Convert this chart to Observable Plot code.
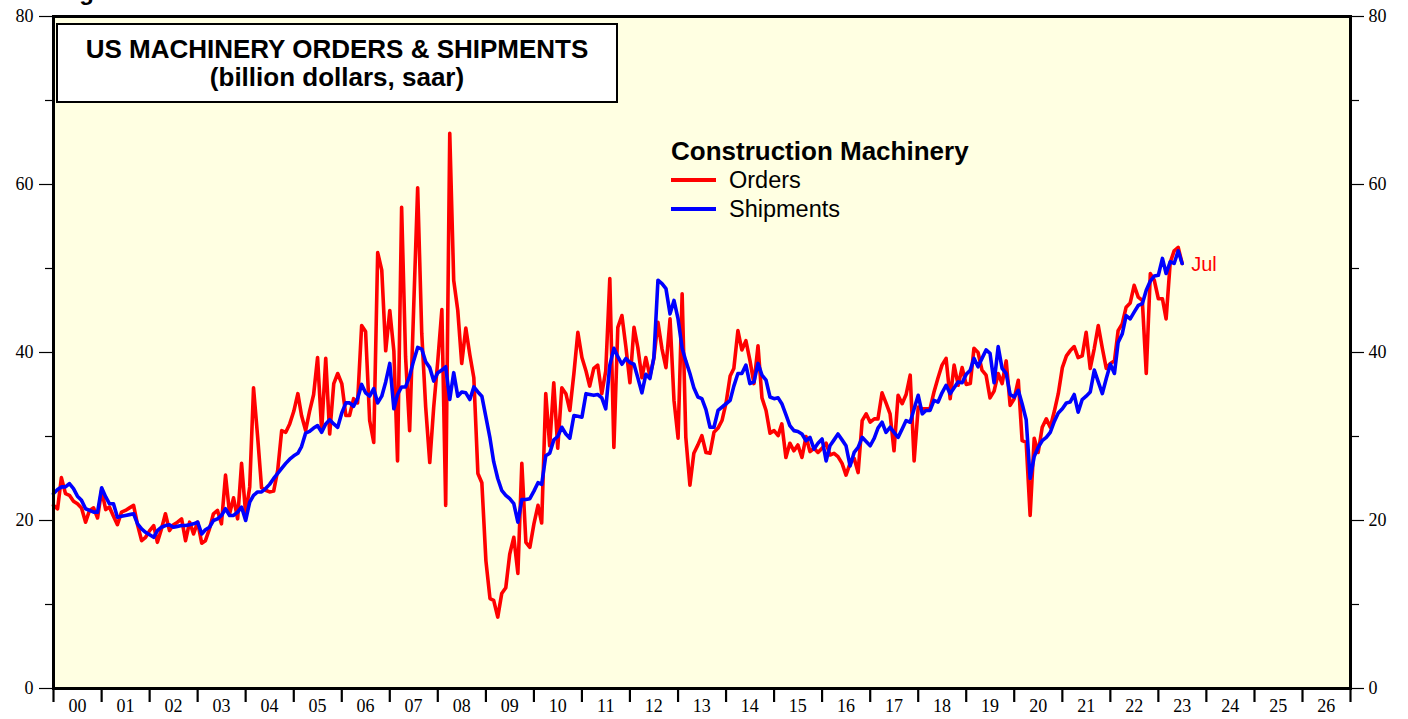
<!DOCTYPE html>
<html>
<head>
<meta charset="utf-8">
<script src="https://cdn.jsdelivr.net/npm/d3@7"></script>
<script src="https://cdn.jsdelivr.net/npm/@observablehq/plot@0.6"></script>
<style>
  html, body { margin: 0; padding: 0; background: #ffffff; overflow: hidden; }
  #wrap { position: relative; width: 1408px; height: 719px; }
  #wrap svg { position: absolute; left: 0; top: 0; }
  .ov { position: absolute; white-space: nowrap; font-family: "Liberation Sans", Arial, sans-serif; color: #000; }
  #titlebox { position: absolute; left: 56px; top: 23px; width: 558px; height: 76px; border: 2px solid #000; background: #fff; }
  .tline { position: absolute; left: 0; width: 100%; text-align: center; font-weight: bold; font-size: 26px; line-height: 30px; font-family: "Liberation Sans", Arial, sans-serif; }
</style>
</head>
<body>
<div id="wrap"></div>
<script>
// ---- data (billion dollars, saar), monthly from Jan 2000 to Jul 2023 ----
const startYear = 2000;
const startMonth = 0;
const orders = [
  21.8, 21.4, 25.1, 23.2, 23.0, 22.3, 22.0, 21.5, 19.8, 21.2, 21.5, 20.3,
  23.6, 21.3, 21.6, 20.5, 19.5, 21.0, 21.2, 21.5, 21.8, 19.5, 17.6, 18.0,
  18.8, 19.4, 17.4, 19.0, 20.8, 18.8, 19.5, 19.8, 20.2, 17.6, 19.8, 18.4,
  19.8, 17.3, 17.6, 19.0, 20.8, 21.2, 19.6, 25.4, 20.8, 22.7, 20.2, 26.8,
  20.8, 24.0, 35.8, 30.0, 23.9, 23.6, 23.4, 23.5, 26.0, 30.7, 30.5, 31.5,
  33.0, 35.1, 32.5, 30.7, 33.0, 35.0, 39.4, 30.7, 39.3, 30.3, 36.3, 37.5,
  36.3, 32.5, 32.5, 34.5, 34.0, 43.2, 42.5, 31.9, 29.3, 51.9, 49.8, 40.2,
  45.0, 40.2, 27.1, 57.3, 39.5, 30.7, 45.0, 59.6, 42.3, 33.5, 26.9, 33.5,
  39.0, 45.1, 21.8, 66.1, 48.6, 45.0, 38.7, 42.9, 39.7, 37.0, 25.6, 24.5,
  15.2, 10.7, 10.5, 8.5, 11.3, 12.0, 16.0, 18.0, 13.7, 26.8, 17.4, 16.8,
  19.6, 21.8, 19.7, 35.1, 28.9, 36.4, 28.6, 35.8, 35.1, 33.1, 37.5, 42.4,
  39.4, 37.8, 36.0, 38.1, 38.5, 35.1, 37.8, 48.8, 28.7, 43.0, 44.4, 40.7,
  36.4, 43.0, 40.6, 37.0, 39.4, 37.2, 39.3, 43.6, 40.4, 38.2, 44.0, 34.3,
  29.8, 47.0, 29.9, 24.2, 28.0, 29.0, 30.1, 28.1, 28.0, 30.5, 31.0, 31.9,
  34.0, 37.2, 38.1, 42.6, 40.3, 41.4, 39.1, 36.3, 40.8, 34.6, 33.1, 30.4,
  30.7, 30.1, 31.5, 27.5, 29.2, 28.3, 29.0, 27.5, 30.0, 28.2, 28.6, 28.1,
  28.6, 29.2, 27.8, 28.0, 27.6, 26.8, 25.4, 26.8, 27.4, 25.7, 31.9, 32.7,
  31.7, 32.1, 32.1, 35.2, 34.0, 32.7, 28.3, 34.9, 33.9, 35.0, 37.3, 27.1,
  33.5, 33.3, 33.3, 33.3, 35.3, 37.0, 38.5, 39.3, 34.5, 38.5, 36.1, 38.2,
  36.2, 36.3, 40.5, 40.0, 37.9, 37.3, 34.6, 35.4, 37.5, 36.3, 39.0, 33.7,
  34.5, 36.7, 29.5, 29.3, 20.6, 29.8, 28.1, 31.1, 32.1, 31.1, 33.0, 35.1,
  38.2, 39.6, 40.2, 40.7, 39.4, 39.6, 42.4, 38.1, 40.5, 43.2, 40.5, 38.1,
  38.7, 39.0, 42.6, 43.4, 45.4, 45.9, 48.0, 46.6, 46.2, 37.5, 49.4, 48.6,
  46.4, 46.4, 44.0, 50.7, 52.1, 52.5, 50.6
];
const shipments = [
  23.2, 23.7, 24.0, 24.0, 24.4, 23.8, 22.9, 22.4, 21.4, 21.2, 21.0, 21.0,
  23.9, 22.8, 22.0, 22.0, 20.4, 20.5, 20.6, 20.7, 20.8, 19.6, 19.0, 18.6,
  18.3, 18.0, 18.8, 19.2, 19.4, 19.5, 19.2, 19.3, 19.4, 19.4, 19.5, 19.6,
  19.8, 18.4, 18.9, 19.2, 20.0, 20.2, 20.6, 21.4, 20.6, 20.6, 21.0, 21.6,
  20.0, 22.2, 23.0, 23.4, 23.4, 23.8, 24.3, 25.0, 25.6, 26.2, 26.8, 27.3,
  27.7, 28.0, 28.8, 30.4, 30.6, 31.0, 31.3, 30.5, 31.5, 32.0, 31.5, 31.1,
  32.8, 34.0, 34.0, 33.6, 34.5, 36.2, 35.2, 34.8, 35.7, 34.0, 34.8, 36.5,
  38.7, 33.3, 35.0, 35.9, 35.9, 37.2, 39.0, 40.6, 40.4, 38.9, 38.2, 36.6,
  37.6, 37.9, 38.3, 34.4, 37.6, 34.8, 35.3, 35.2, 34.4, 35.9, 35.3, 34.8,
  32.3, 29.8, 27.0, 25.0, 23.6, 23.0, 22.6, 22.0, 19.8, 22.5, 22.5, 22.6,
  23.5, 24.5, 24.3, 27.7, 28.0, 29.6, 30.0, 31.1, 30.3, 29.8, 32.5, 32.4,
  32.3, 35.1, 35.0, 34.9, 35.0, 34.6, 33.3, 38.5, 40.5, 39.5, 38.6, 39.3,
  38.8, 38.6, 37.0, 35.2, 37.4, 36.9, 39.4, 48.6, 48.2, 47.6, 44.6, 46.2,
  44.0, 40.5, 39.0, 37.5, 35.8, 34.7, 34.5, 33.2, 31.1, 31.1, 33.1, 33.5,
  33.9, 34.3, 36.0, 37.5, 37.5, 38.5, 36.3, 36.5, 38.7, 37.3, 36.7, 34.7,
  34.5, 34.6, 33.9, 32.6, 31.3, 30.7, 30.6, 30.3, 29.5, 29.9, 28.5, 29.2,
  29.7, 27.1, 28.9, 29.6, 30.3, 29.6, 28.9, 26.5, 28.1, 28.7, 29.9, 29.4,
  28.9, 29.8, 31.0, 31.7, 30.5, 31.1, 30.5, 29.9, 30.9, 31.9, 31.7, 33.3,
  34.9, 32.7, 33.1, 33.1, 34.3, 34.1, 35.2, 36.1, 35.1, 35.8, 36.5, 36.4,
  37.4, 37.9, 39.3, 38.3, 39.3, 40.3, 39.9, 36.4, 40.7, 38.1, 37.5, 35.0,
  34.7, 35.5, 33.9, 32.0, 25.0, 27.6, 28.7, 29.5, 29.9, 30.5, 31.8, 32.8,
  33.3, 34.0, 34.1, 35.0, 32.9, 34.4, 34.8, 35.3, 37.9, 36.5, 35.1, 36.9,
  38.6, 37.5, 41.2, 42.2, 44.4, 44.0, 44.8, 45.6, 45.8, 47.4, 48.5, 49.1,
  49.2, 51.2, 49.4, 50.8, 50.6, 52.1, 50.6
];
const yearLabels = ["00","01","02","03","04","05","06","07","08","09","10","11","12","13",
  "14","15","16","17","18","19","20","21","22","23","24","25","26"];
const yTickMajor = [0, 20, 40, 60, 80];
const yTickMinor = [10, 30, 50, 70];
const seriesNames = ["Orders", "Shipments"];
const seriesColors = ["#ff0000", "#0000ff"];
const lastLabel = "Jul";

// ---- build tables ----
const monthDate = i => new Date(Date.UTC(startYear, startMonth + i, 1));
const rows = [];
orders.forEach((v, i) => rows.push({date: monthDate(i), value: v, series: "Orders"}));
shipments.forEach((v, i) => rows.push({date: monthDate(i), value: v, series: "Shipments"}));
const yearStarts = d3.range(0, yearLabels.length + 1).map(k => new Date(Date.UTC(startYear + k, 0, 1)));
const yearMids = yearLabels.map((s, k) => ({date: new Date(Date.UTC(startYear + k, 6, 1)), label: s}));
const lastOrder = {date: monthDate(orders.length - 1), value: orders[orders.length - 1]};

const serif = "'Liberation Serif', 'Times New Roman', Times, serif";

const chart = Plot.plot({
  width: 1408,
  height: 719,
  marginLeft: 53,
  marginRight: 58,
  marginTop: 16,
  marginBottom: 31,
  style: {background: "transparent", fontFamily: serif, overflow: "visible"},
  x: {type: "utc", domain: [yearStarts[0], yearStarts[yearStarts.length - 1]]},
  y: {domain: [0, 80]},
  color: {domain: seriesNames, range: seriesColors},
  marks: [
    Plot.frame({fill: "#ffffe2", stroke: null}),
    Plot.lineY(rows.filter(d => d.series === "Orders"), {x: "date", y: "value", stroke: seriesColors[0], strokeWidth: 3.6, strokeLinejoin: "round"}),
    Plot.lineY(rows.filter(d => d.series === "Shipments"), {x: "date", y: "value", stroke: seriesColors[1], strokeWidth: 3.6, strokeLinejoin: "round"}),
    Plot.text([lastOrder], {x: "date", y: "value", text: () => lastLabel, dx: 9, dy: 1, textAnchor: "start", fill: seriesColors[0], fontSize: 20, fontFamily: "'Liberation Sans', Arial, sans-serif"}),
    Plot.frame({stroke: "#000", strokeWidth: 3}),
    // y axes
    Plot.axisY({anchor: "left", ticks: yTickMajor, tickSize: 14, tickPadding: 6, fontSize: 18, label: null, strokeWidth: 1.2, fontFamily: serif}),
    Plot.axisY({anchor: "left", ticks: yTickMinor, tickSize: 8, tickFormat: () => "", label: null, strokeWidth: 1.2}),
    Plot.axisY({anchor: "right", ticks: yTickMajor, tickSize: 13, tickPadding: 5, fontSize: 18, label: null, strokeWidth: 1.2, fontFamily: serif}),
    Plot.axisY({anchor: "right", ticks: yTickMinor, tickSize: 8, tickFormat: () => "", label: null, strokeWidth: 1.2}),
    // x axis
    Plot.axisX({ticks: yearStarts, tickSize: 14, tickFormat: () => "", label: null, strokeWidth: 2.2}),
    Plot.text(yearMids, {x: "date", frameAnchor: "bottom", dy: 23, text: "label", fontSize: 18, fontFamily: serif, fill: "#000"})
  ]
});

const wrap = document.getElementById("wrap");
wrap.appendChild(chart);

// ---- annotations ----
function addDiv(html, css, cls) {
  const d = document.createElement("div");
  if (cls) d.className = cls;
  d.innerHTML = html;
  Object.assign(d.style, css);
  wrap.appendChild(d);
  return d;
}
addDiv("Figure 5.", {left: "58px", top: "-20px", fontSize: "24px", fontWeight: "bold", lineHeight: "24px"}, "ov");
const tb = addDiv("", {}, null);
tb.id = "titlebox";
const t1 = document.createElement("div"); t1.className = "tline"; t1.style.top = "9px"; t1.textContent = "US MACHINERY ORDERS & SHIPMENTS"; tb.appendChild(t1);
const t2 = document.createElement("div"); t2.className = "tline"; t2.style.top = "37px"; t2.textContent = "(billion dollars, saar)"; tb.appendChild(t2);

addDiv("Construction Machinery", {left: "671px", top: "136px", fontSize: "26px", fontWeight: "bold", lineHeight: "30px"}, "ov");
seriesNames.forEach((name, i) => {
  const cy = 180 + i * 29;
  addDiv("", {left: "671px", top: (cy - 1.75) + "px", width: "45px", height: "3.5px", background: seriesColors[i]}, "ov");
  addDiv(name, {left: "729px", top: (cy - 14) + "px", fontSize: "23.5px", lineHeight: "28px"}, "ov");
});
</script>
</body>
</html>
